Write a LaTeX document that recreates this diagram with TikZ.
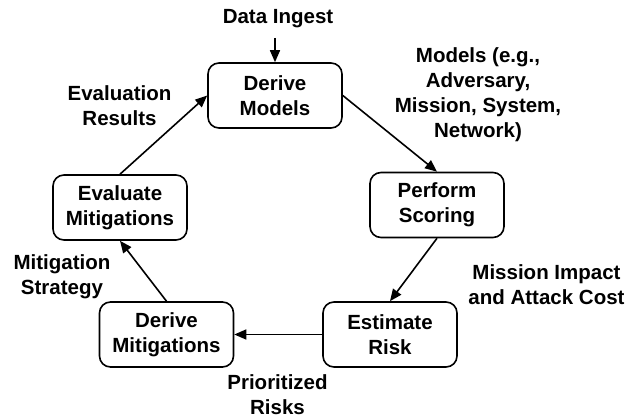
\documentclass[tikz,border=0pt]{standalone}
\usepackage{fontspec}
\setmainfont{Liberation Sans}
\usetikzlibrary{arrows.meta}
\begin{document}
\begin{tikzpicture}[x=1pt,y=-1pt,
  stepbox/.style={draw,line width=1.6pt,rounded corners=11pt,minimum width=134pt,minimum height=65pt,inner sep=0pt,align=center,font=\fontsize{20.5}{25}\selectfont\bfseries},
  lbl/.style={anchor=north,inner sep=0pt,align=center,font=\fontsize{20.5}{25}\selectfont\bfseries},
  flow/.style={line width=1.6pt,-{Triangle[length=12pt,width=10pt]}}]
\useasboundingbox (0,0) rectangle (630,419);
\node[stepbox] (dm) at (275,95.5) {Derive\\Models};
\node[stepbox] (ps) at (437,205) {Perform\\Scoring};
\node[stepbox] (er) at (390,334.5) {Estimate\\Risk};
\node[stepbox] (dmit) at (166.5,334.5) {Derive\\Mitigations};
\node[stepbox] (em) at (120,207.5) {Evaluate\\Mitigations};
\node[lbl] (ldata) at (278,9) {Data Ingest};
\node[lbl] (lmodels) at (478,47) {Models (e.g.,\\Adversary,\\Mission, System,\\Network)};
\node[lbl] (limpact) at (546.5,264) {Mission Impact\\and Attack Cost};
\node[lbl] (lrisks) at (277.5,374) {Prioritized\\Risks};
\node[lbl] (lstrat) at (62,254) {Mitigation\\Strategy};
\node[lbl] (lres) at (119.5,85) {Evaluation\\Results};
\coordinate (din) at (275,38);
\draw[flow] (din) -- (dm.north);
\draw[flow] (dm.east) -- (ps.north);
\draw[flow] (ps.south) -- (er.north);
\draw[flow] (er.west) -- (dmit.east);
\draw[flow] (dmit.north) -- (em.south);
\draw[flow] (em.north) -- (dm.west);
\end{tikzpicture}
\end{document}
